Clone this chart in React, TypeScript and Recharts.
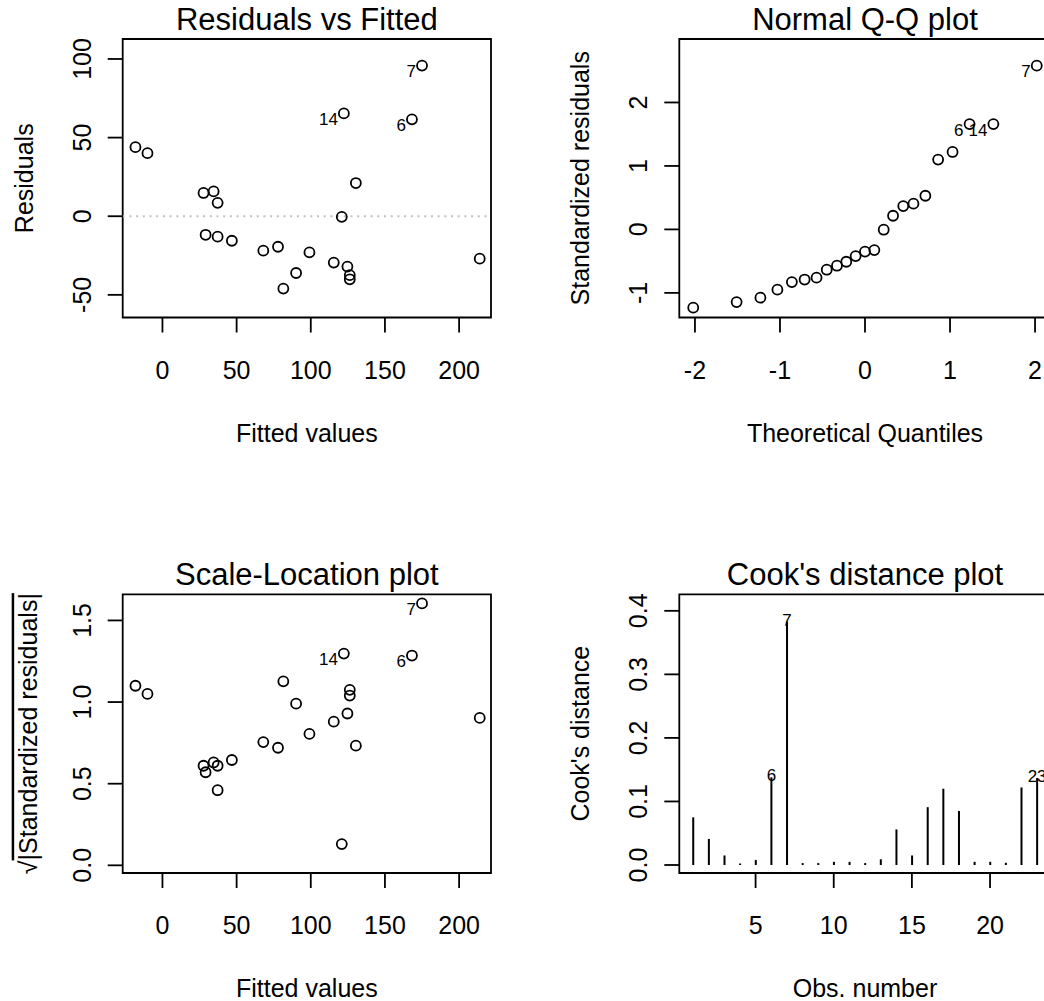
import React from "react";
import { ComposedChart, Scatter, Bar, XAxis, YAxis, ReferenceArea, ReferenceLine } from "recharts";

const FONT = '"Liberation Sans", Arial, Helvetica, sans-serif';

// residuals vs fitted / scale-location share the fitted values
const fitted = [-18.2, -10.1, 27.7, 29.1, 34.5, 37.2, 37.2, 46.8, 68.0, 77.9, 81.5, 90.1, 99.1, 115.5, 124.7, 126.3, 126.3, 120.9, 130.4, 122.3, 168.2, 175.0, 213.9];
const residuals = [43.9, 40.1, 14.8, -11.8, 15.8, 8.5, -13.0, -15.6, -21.9, -19.4, -46.0, -36.1, -23.0, -29.5, -32.0, -37.5, -40.1, -0.4, 21.1, 65.4, 61.6, 95.8, -27.0];
const sqrtStdResid = [1.1, 1.05, 0.61, 0.57, 0.63, 0.46, 0.61, 0.645, 0.755, 0.72, 1.127, 0.99, 0.805, 0.88, 0.93, 1.04, 1.075, 0.13, 0.733, 1.297, 1.285, 1.604, 0.903];
const fitIds = ["", "", "", "", "", "", "", "", "", "", "", "", "", "", "", "", "", "", "", "14", "6", "7", ""];

// normal Q-Q
const theoQuantiles = [-2.02, -1.51, -1.23, -1.03, -0.86, -0.71, -0.57, -0.45, -0.33, -0.22, -0.11, 0, 0.11, 0.22, 0.33, 0.45, 0.57, 0.71, 0.86, 1.03, 1.23, 1.51, 2.02];
const stdResidSorted = [-1.233, -1.145, -1.076, -0.95, -0.83, -0.79, -0.76, -0.635, -0.572, -0.51, -0.42, -0.35, -0.326, -0.005, 0.215, 0.367, 0.405, 0.53, 1.1, 1.22, 1.66, 1.66, 2.58];
const qqIds = ["", "", "", "", "", "", "", "", "", "", "", "", "", "", "", "", "", "", "", "", "6", "14", "7"];

// cook's distance
const obsNumber = [1, 2, 3, 4, 5, 6, 7, 8, 9, 10, 11, 12, 13, 14, 15, 16, 17, 18, 19, 20, 21, 22, 23];
const cooksD = [0.075, 0.041, 0.015, 0.001, 0.008, 0.138, 0.383, 0.003, 0.003, 0.005, 0.005, 0.003, 0.009, 0.056, 0.015, 0.091, 0.12, 0.085, 0.005, 0.005, 0.0035, 0.122, 0.137];
const cookIds = ["", "", "", "", "", "6", "7", "", "", "", "", "", "", "", "", "", "", "", "", "", "", "", "23"];

const fittedTicks = [0, 50, 100, 150, 200];
const residTicks = [-50, 0, 50, 100];
const qqTicksX = [-2, -1, 0, 1, 2];
const qqTicksY = [-1, 0, 1, 2];
const slTicks = [0, 0.5, 1, 1.5];
const obsTicks = [5, 10, 15, 20];
const cookTicks = [0, 0.1, 0.2, 0.3, 0.4];

const residData = fitted.map((x, i) => ({ x, y: residuals[i], id: fitIds[i] }));
const slData = fitted.map((x, i) => ({ x, y: sqrtStdResid[i], id: fitIds[i] }));
const qqData = theoQuantiles.map((x, i) => ({ x, y: stdResidSorted[i], id: qqIds[i] }));
const cookData = obsNumber.map((x, i) => ({ x, y: cooksD[i], id: cookIds[i] }));

type Box = { l: number; t: number; r: number; b: number };

const Ring = (p: any) => (
  <g>
    <circle cx={p.cx} cy={p.cy} r={5} fill="none" stroke="#000" strokeWidth={1.8} />
    {p.payload.id ? (
      <text x={p.cx - 6} y={p.cy + 11.5} textAnchor="end" fontSize={17} fontFamily={FONT} fill="#000">
        {p.payload.id}
      </text>
    ) : null}
  </g>
);

const Spike = (p: any) => {
  const h = Math.max(p.height, 1.5);
  return (
    <g>
      <rect x={p.x} y={p.y + p.height - h} width={p.width} height={h} fill="#000" />
      {p.payload.id ? (
        <text x={p.x + p.width / 2} y={p.y + 4} textAnchor="middle" fontSize={17} fontFamily={FONT} fill="#000">
          {p.payload.id}
        </text>
      ) : null}
    </g>
  );
};

function Panel(props: any) {
  const { left, top, width, height, box, title, xLabel, yLabel, yLabelOff, xDomain, yDomain, xTicks, yTicks, fmtY, data, children } = props;
  const b: Box = box;
  return (
    <div style={{ position: "absolute", left, top, width, height }}>
      <ComposedChart width={width} height={height} data={data} margin={{ top: b.t, right: width - b.r, bottom: 0, left: 0 }}>
        <XAxis
          type="number"
          dataKey="x"
          domain={xDomain}
          ticks={xTicks}
          interval={0}
          allowDataOverflow
          height={height - b.b}
          axisLine={false}
          tickLine={{ stroke: "#000", strokeWidth: 1.8 }}
          tickSize={15}
          tickMargin={0}
          tick={(t: any) => (
            <text x={t.x} y={t.y + 46} textAnchor="middle" fontSize={25} fontFamily={FONT} fill="#000">
              {String(t.payload.value)}
            </text>
          )}
        />
        <YAxis
          type="number"
          dataKey="y"
          domain={yDomain}
          ticks={yTicks}
          interval={0}
          allowDataOverflow
          width={b.l}
          axisLine={false}
          tickLine={{ stroke: "#000", strokeWidth: 1.8 }}
          tickSize={15}
          tickMargin={0}
          tick={(t: any) => (
            <text
              x={t.x - 17}
              y={t.y}
              transform={`rotate(-90 ${t.x - 17} ${t.y})`}
              textAnchor="middle"
              fontSize={25}
              fontFamily={FONT}
              fill="#000"
            >
              {fmtY ? fmtY(t.payload.value) : String(t.payload.value)}
            </text>
          )}
        />
        <ReferenceArea x1={xDomain[0]} x2={xDomain[1]} y1={yDomain[0]} y2={yDomain[1]} fill="none" fillOpacity={0} stroke="#000" strokeWidth={1.8} />
        {children}
      </ComposedChart>
      <svg width={width} height={height} style={{ position: "absolute", left: 0, top: 0, pointerEvents: "none", overflow: "visible" }}>
        <text x={(b.l + b.r) / 2} y={b.t - 9} textAnchor="middle" fontSize={31} fontFamily={FONT} fill="#000">
          {title}
        </text>
        <text x={(b.l + b.r) / 2} y={b.b + 124} textAnchor="middle" fontSize={25} fontFamily={FONT} fill="#000">
          {xLabel}
        </text>
        <text
          x={b.l - yLabelOff}
          y={(b.t + b.b) / 2}
          transform={`rotate(-90 ${b.l - yLabelOff} ${(b.t + b.b) / 2})`}
          textAnchor="middle"
          fontSize={25}
          fontFamily={FONT}
          fill="#000"
        >
          {yLabel}
        </text>
      </svg>
    </div>
  );
}

const fmt1 = (v: number) => v.toFixed(1);

export default function App() {
  const leftBoxTop: Box = { l: 122.7, t: 39, r: 491, b: 317.5 };
  const rightBoxTop: Box = { l: 157.3, t: 39, r: 528.7, b: 317.5 };
  const leftBoxBot: Box = { l: 122.7, t: 94.3, r: 491, b: 373 };
  const rightBoxBot: Box = { l: 157.3, t: 94.3, r: 528.7, b: 373 };
  return (
    <div style={{ position: "absolute", left: 0, top: 0, width: 1044, height: 1001, overflow: "hidden", background: "#fff", fontFamily: FONT }}>
      <Panel
        left={0}
        top={0}
        width={522}
        height={500}
        box={leftBoxTop}
        title="Residuals vs Fitted"
        xLabel="Fitted values"
        yLabel="Residuals"
        yLabelOff={90}
        xDomain={[-26.8, 221.5]}
        yDomain={[-64.4, 112.7]}
        xTicks={fittedTicks}
        yTicks={residTicks}
      >
        <ReferenceLine y={0} stroke="#c0c0c0" strokeWidth={2} strokeDasharray="2 4.7" />
        <Scatter data={residData} shape={Ring} isAnimationActive={false} />
      </Panel>
      <Panel
        left={522}
        top={0}
        width={600}
        height={500}
        box={rightBoxTop}
        title="Normal Q-Q plot"
        xLabel="Theoretical Quantiles"
        yLabel="Standardized residuals"
        yLabelOff={90}
        xDomain={[-2.184, 2.184]}
        yDomain={[-1.388, 3.0]}
        xTicks={qqTicksX}
        yTicks={qqTicksY}
      >
        <Scatter data={qqData} shape={Ring} isAnimationActive={false} />
      </Panel>
      <Panel
        left={0}
        top={500}
        width={522}
        height={501}
        box={leftBoxBot}
        title="Scale-Location plot"
        xLabel="Fitted values"
        yLabel={
          <>
            <tspan>√</tspan>
            <tspan style={{ textDecoration: "overline" }}>|Standardized residuals|</tspan>
          </>
        }
        yLabelOff={86}
        xDomain={[-26.8, 221.5]}
        yDomain={[-0.047, 1.66]}
        xTicks={fittedTicks}
        yTicks={slTicks}
        fmtY={fmt1}
      >
        <Scatter data={slData} shape={Ring} isAnimationActive={false} />
      </Panel>
      <Panel
        left={522}
        top={500}
        width={600}
        height={501}
        box={rightBoxBot}
        title="Cook's distance plot"
        xLabel="Obs. number"
        yLabel="Cook's distance"
        yLabelOff={90}
        xDomain={[0.12, 23.88]}
        yDomain={[-0.0126, 0.426]}
        xTicks={obsTicks}
        yTicks={cookTicks}
        fmtY={fmt1}
        data={cookData}
      >
        <Bar dataKey="y" barSize={2} fill="#000" shape={Spike} isAnimationActive={false} />
      </Panel>
    </div>
  );
}
